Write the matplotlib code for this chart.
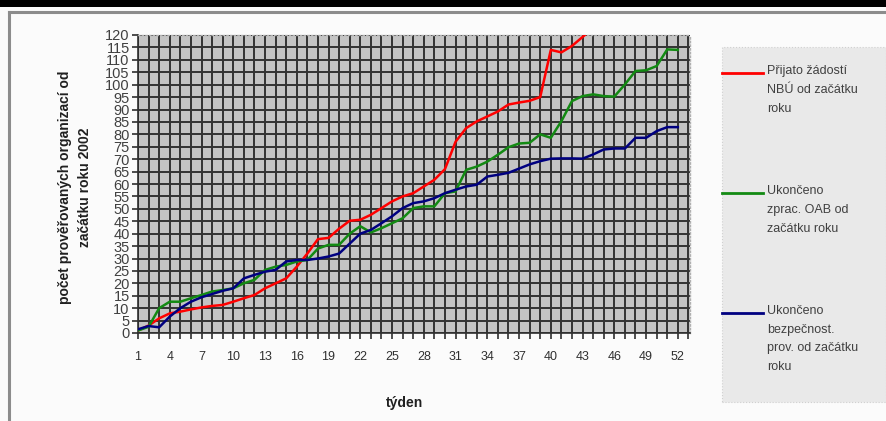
import matplotlib
matplotlib.use("Agg")
import matplotlib.pyplot as plt
from matplotlib.lines import Line2D
from matplotlib.patches import Rectangle
from matplotlib.ticker import FixedLocator, FixedFormatter

plt.rcParams['font.family'] = ['Liberation Sans', 'DejaVu Sans']

weeks = list(range(1, 53))
red_vals = [1, 3, 5.9, 7.9, 8.6, 9.5, 10.3, 10.9, 11.3, 12.6, 14, 15.3, 18, 20, 22,
            26.7, 32, 37.8, 38.3, 42, 45.2, 45.6, 47.6, 50.3, 53, 55, 56.3, 59, 61.7,
            66, 77, 82.5, 85.2, 87.2, 89.2, 92, 92.8, 93.5, 95, 114, 113, 115.6, 119.2, 123]
green_vals = [1, 2.5, 10, 12.6, 12.6, 14, 15.3, 16.7, 17.3, 18, 20, 21.4, 25.4, 26.7,
              27.4, 28.8, 29.4, 34, 35.5, 35.5, 40, 43, 40.5, 42.2, 44.2, 46.2, 50.3, 51,
              51, 56.3, 57, 65.7, 67, 69, 71.8, 74.8, 76.3, 76.6, 80, 78.6, 85.3, 93.4,
              95.4, 96.1, 95.4, 95.2, 100.1, 105.5, 105.8, 107.5, 114.2, 114]
blue_vals = [1.5, 2.8, 2.3, 6.6, 10, 12.6, 14.4, 15.7, 17, 18, 22, 23.4, 24.7, 25.4, 28.8,
             29.4, 29.4, 30, 30.8, 32, 36, 40, 41.5, 44.2, 47, 50.3, 52.3, 53, 54.3, 56.3,
             57.7, 59, 59.7, 63, 63.7, 64.5, 66.2, 67.9, 69.2, 70.2, 70.3, 70.3, 70.2,
             71.9, 73.9, 74.3, 74.3, 78.6, 78.6, 81.3, 82.9, 82.9]

labels = ["Přijato žádostí\nNBÚ od začátku\nroku",
          "Ukončeno\nzprac. OAB od\nzačátku roku",
          "Ukončeno\nbezpečnost.\nprov. od začátku\nroku"]
colors = ["#ff0000", "#138a13", "#000080"]
y_ticks = list(range(0, 121, 5))
y_label = "počet prověřovaných organizací od\nzačátku roku 2002"
x_label = "týden"

W, H = 886, 421
fig = plt.figure(figsize=(W / 100, H / 100), dpi=100)
fig.patch.set_facecolor("#fbfbfb")

# frame decorations
fig.add_artist(Rectangle((0, 1 - 7 / H), 1, 7 / H, transform=fig.transFigure,
                         facecolor="black", edgecolor="none"))
fig.add_artist(Line2D([8.5 / W, 1], [1 - 11.5 / H, 1 - 11.5 / H], transform=fig.transFigure,
                      color="#8c8c8c", lw=2.2))
fig.add_artist(Line2D([8.5 / W, 8.5 / W], [0, 1 - 11.5 / H], transform=fig.transFigure,
                      color="#8c8c8c", lw=2.2))

ax = fig.add_axes([138 / W, 88 / H, (690 - 138) / W, (333 - 35) / H])
ax.set_facecolor("#c4c4c4")
series = [red_vals, green_vals, blue_vals]
for vals, c, lab in zip(series, colors, labels):
    ax.plot(weeks[:len(vals)], vals, color=c, lw=1.8, label=lab, zorder=3, clip_on=True)

ax.set_xlim(1, 53.15)
ax.set_ylim(0, 120)
ax.xaxis.set_major_locator(FixedLocator(list(range(1, 54))))
ax.xaxis.set_major_formatter(FixedFormatter(
    [str(w) if (w - 1) % 3 == 0 and w <= 52 else "" for w in range(1, 54)]))
ax.yaxis.set_major_locator(FixedLocator(y_ticks))
ax.yaxis.set_major_formatter(FixedFormatter([str(v) for v in y_ticks]))
ax.grid(True, color="#333333", lw=1.4, zorder=1)
ax.set_axisbelow(True)
ax.tick_params(axis="x", direction="out", length=4, width=1.2, color="#303030",
               labelsize=9, labelcolor="#303030", pad=9)
ax.tick_params(axis="y", direction="out", length=4, width=1.2, color="#303030",
               labelsize=10.5, labelcolor="#404040", pad=2)
for s in ["top", "right"]:
    ax.spines[s].set_color("#b0b0b0")
    ax.spines[s].set_linestyle(":")
    ax.spines[s].set_linewidth(1)
for s in ["left", "bottom"]:
    ax.spines[s].set_color("#303030")
    ax.spines[s].set_linewidth(1.2)

fig.text(75 / W, 1 - 187 / H, y_label, rotation=90, ha="center", va="center",
         fontsize=10, fontweight="bold", color="#202020", linespacing=1.5,
         multialignment="center")
fig.text(405 / W, 1 - 403 / H, x_label, ha="center", va="center", fontsize=10,
         fontweight="bold", color="#202020")

# legend
fig.add_artist(Rectangle((722 / W, 1 - 402 / H), (W - 722) / W, (402 - 47) / H,
                         transform=fig.transFigure, facecolor="#e9e9e9",
                         edgecolor="#d0d0d0", lw=0.8, linestyle=":"))
entry_y = [73, 193, 313]
for lab, c, yy in zip(labels, colors, entry_y):
    fig.add_artist(Line2D([722 / W, 763 / W], [1 - yy / H, 1 - yy / H],
                          transform=fig.transFigure, color=c, lw=2))
    fig.text(767 / W, 1 - (yy - 8) / H, lab, ha="left", va="top", fontsize=9,
             color="#404040", linespacing=1.75)

fig.savefig("out.png", dpi=100, facecolor=fig.get_facecolor())
